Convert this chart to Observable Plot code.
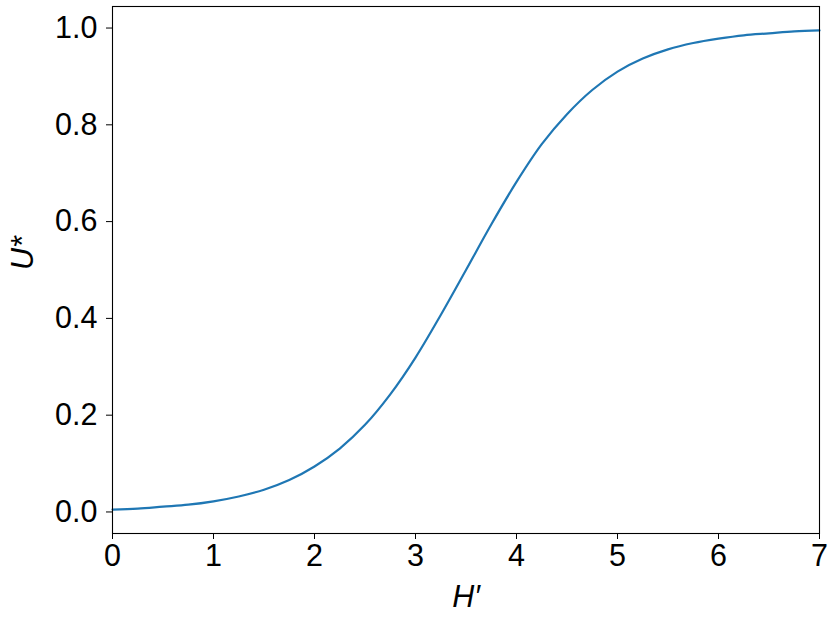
<!DOCTYPE html>
<html>
<head>
<meta charset="utf-8">
<script src="https://cdn.jsdelivr.net/npm/d3@7"></script>
<script src="https://cdn.jsdelivr.net/npm/@observablehq/plot@0.6"></script>
<style>
  html, body { margin: 0; padding: 0; background: #fff; }
  #chart { width: 833px; height: 625px; }
</style>
</head>
<body>
<div id="chart"></div>
<script>
const hValues = [0, 0.25, 0.5, 0.75, 1.0, 1.25, 1.5, 1.75, 2.0, 2.25, 2.5, 2.75, 3.0, 3.25, 3.5,
                 3.75, 4.0, 4.25, 4.5, 4.75, 5.0, 5.25, 5.5, 5.75, 6.0, 6.25, 6.5, 6.75, 7.0];
const uValues = [0.005, 0.007, 0.011, 0.015, 0.022, 0.032, 0.046, 0.066, 0.094, 0.131, 0.180, 0.243, 0.319, 0.407, 0.500,
                 0.594, 0.682, 0.760, 0.822, 0.872, 0.910, 0.937, 0.956, 0.969, 0.978, 0.985, 0.989, 0.993, 0.995];
const xTicks = [0, 1, 2, 3, 4, 5, 6, 7];
const yTicks = [0.0, 0.2, 0.4, 0.6, 0.8, 1.0];
const xLabel = "H′";
const yLabel = "U*";

const data = hValues.map((h, i) => ({h, u: uValues[i]}));
const font = "'Liberation Sans', Arial, Helvetica, sans-serif";

const chart = Plot.plot({
  width: 833,
  height: 625,
  marginLeft: 112,
  marginRight: 14,
  marginTop: 6,
  marginBottom: 92,
  style: {fontFamily: font, fontSize: "30.5px", color: "#000", background: "#fff"},
  x: {domain: [0, 7], ticks: xTicks, tickFormat: d => String(d), tickSize: 6, tickPadding: 5, label: null},
  y: {domain: [-0.0445, 1.0445], ticks: yTicks, tickFormat: d => d.toFixed(1), tickSize: 6, tickPadding: 9, label: null},
  marks: [
    Plot.line(data, {x: "h", y: "u", stroke: "#1f77b4", strokeWidth: 2.2, curve: "catmull-rom"}),
    Plot.frame({stroke: "#000", strokeWidth: 1.1}),
    Plot.text([xLabel], {frameAnchor: "bottom", dy: 64, text: d => d, fontStyle: "italic", fontSize: 30.5, lineAnchor: "middle", fill: "#000"}),
    Plot.text([yLabel], {frameAnchor: "left", dx: -89, text: d => d, rotate: -90, fontStyle: "italic", fontSize: 30.5, lineAnchor: "middle", fill: "#000"})
  ]
});
document.getElementById("chart").appendChild(chart);
</script>
</body>
</html>
